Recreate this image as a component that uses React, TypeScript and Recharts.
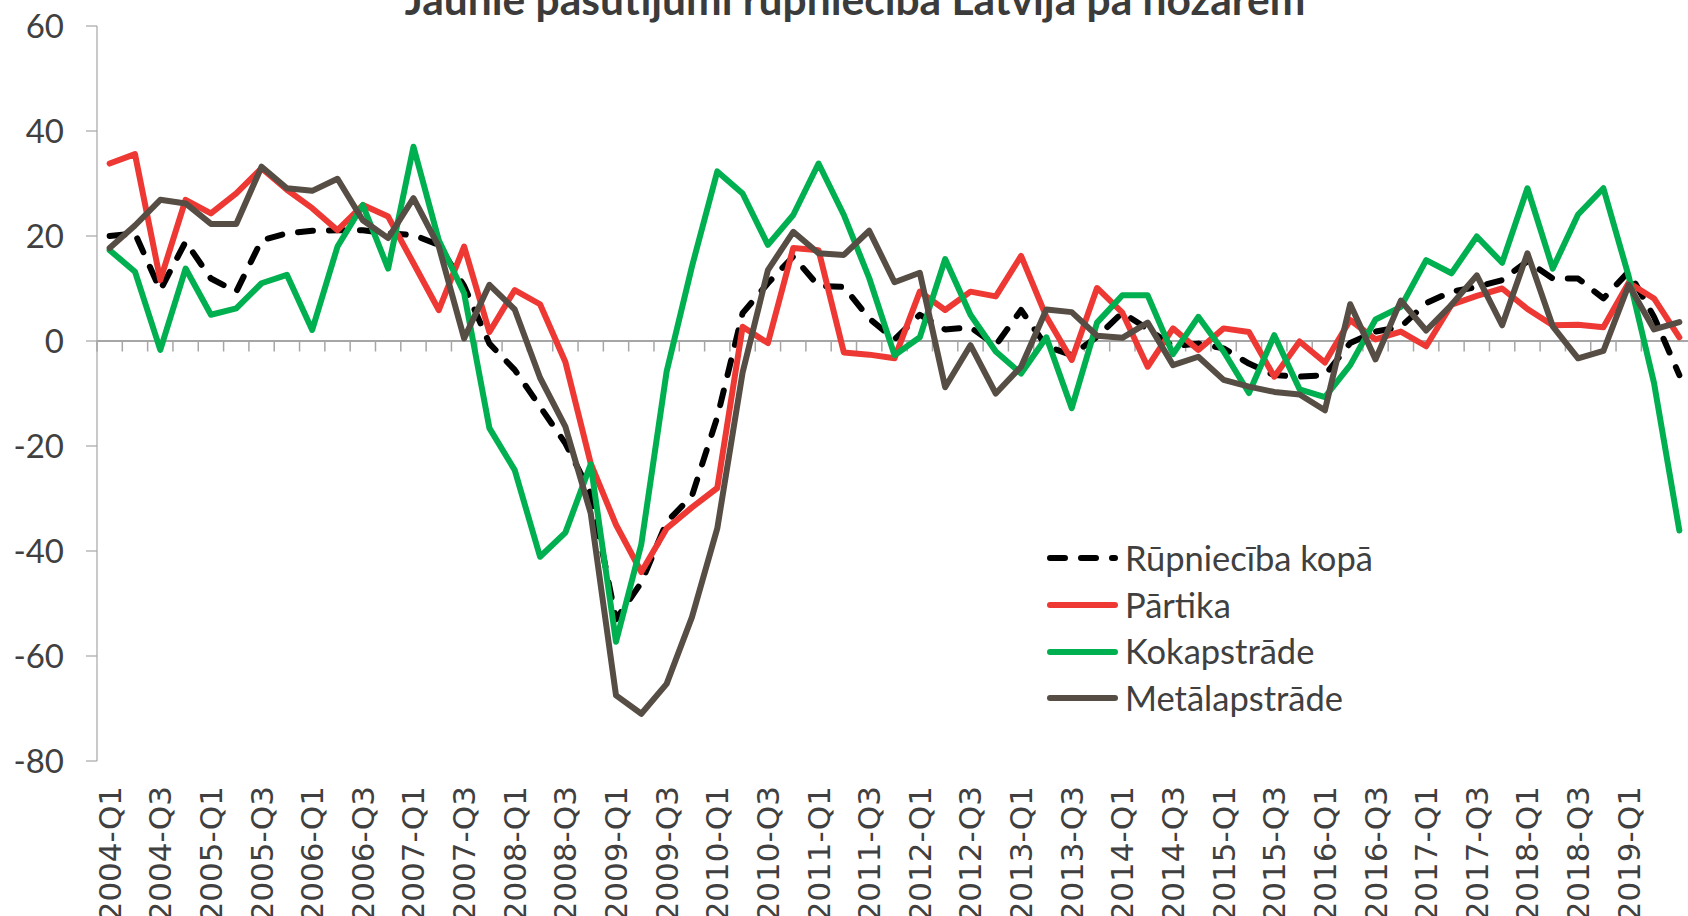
import { LineChart, Line, XAxis, YAxis, ReferenceLine, Legend } from "recharts";

const quarters = [
  "2004-Q1", "2004-Q2", "2004-Q3", "2004-Q4",
  "2005-Q1", "2005-Q2", "2005-Q3", "2005-Q4",
  "2006-Q1", "2006-Q2", "2006-Q3", "2006-Q4",
  "2007-Q1", "2007-Q2", "2007-Q3", "2007-Q4",
  "2008-Q1", "2008-Q2", "2008-Q3", "2008-Q4",
  "2009-Q1", "2009-Q2", "2009-Q3", "2009-Q4",
  "2010-Q1", "2010-Q2", "2010-Q3", "2010-Q4",
  "2011-Q1", "2011-Q2", "2011-Q3", "2011-Q4",
  "2012-Q1", "2012-Q2", "2012-Q3", "2012-Q4",
  "2013-Q1", "2013-Q2", "2013-Q3", "2013-Q4",
  "2014-Q1", "2014-Q2", "2014-Q3", "2014-Q4",
  "2015-Q1", "2015-Q2", "2015-Q3", "2015-Q4",
  "2016-Q1", "2016-Q2", "2016-Q3", "2016-Q4",
  "2017-Q1", "2017-Q2", "2017-Q3", "2017-Q4",
  "2018-Q1", "2018-Q2", "2018-Q3", "2018-Q4",
  "2019-Q1", "2019-Q2", "2019-Q3",
];

// Rūpniecība kopā
const kopa = [
  20.0, 20.5, 9.7, 18.9, 11.9, 9.4, 19.2, 20.5, 21.0, 21.1, 21.1, 20.5, 20.2, 18.3, 10.5, -0.5,
  -5.5, -12.5, -19.5, -29.0, -53.0, -46.0, -34.5, -29.5, -14.5, 5.3, 11.0, 16.1, 10.5, 10.3, 4.3, 0.3,
  5.0, 2.2, 2.6, -0.8, 5.9, -1.0, -2.7, 0.8, 5.4, 2.3, -1.0, -0.5, -1.4, -4.3, -6.5, -6.8,
  -6.5, -0.4, 1.8, 2.7, 7.2, 9.4, 10.3, 11.6, 15.2, 11.9, 11.9, 8.1, 13.2, 4.6, -6.5,
];

// Pārtika
const partika = [
  33.8, 35.6, 11.6, 26.9, 24.3, 28.1, 32.9, 28.8, 25.3, 21.1, 25.9, 23.7, 14.8, 5.9, 18.0, 1.7,
  9.7, 7.0, -4.0, -23.3, -35.0, -44.0, -35.7, -31.7, -28.0, 2.7, -0.4, 17.7, 17.3, -2.2, -2.6, -3.3,
  9.4, 5.9, 9.4, 8.5, 16.2, 4.6, -3.6, 10.1, 5.4, -4.9, 2.4, -1.7, 2.4, 1.7, -6.8, -0.1,
  -4.1, 4.0, 0.3, 1.8, -1.0, 6.9, 8.6, 10.0, 6.1, 3.0, 3.1, 2.6, 11.1, 8.1, 0.7,
];

// Kokapstrāde
const kokapstrade = [
  17.3, 13.2, -1.7, 13.8, 5.0, 6.2, 11.0, 12.6, 2.1, 18.0, 25.9, 13.8, 37.0, 19.2, 9.1, -16.6,
  -24.6, -41.1, -36.5, -23.5, -57.3, -38.7, -5.8, 14.2, 32.3, 28.1, 18.3, 24.0, 33.8, 24.0, 12.0, -2.7,
  0.7, 15.6, 5.0, -2.0, -6.2, 0.7, -12.8, 3.5, 8.7, 8.7, -2.5, 4.6, -2.0, -9.9, 1.1, -9.2,
  -10.7, -4.6, 4.1, 6.5, 15.4, 12.9, 19.9, 14.9, 29.1, 13.8, 24.1, 29.1, 12.3, -8.0, -36.1,
];

// Metālapstrāde
const metalapstrade = [
  17.7, 22.0, 26.9, 26.2, 22.3, 22.3, 33.2, 29.1, 28.6, 30.9, 23.0, 19.6, 27.2, 18.0, 0.5, 10.7,
  6.0, -7.0, -16.3, -32.8, -67.5, -71.0, -65.3, -52.6, -35.7, -6.0, 13.5, 20.8, 16.7, 16.4, 21.0, 11.2,
  13.0, -8.8, -0.8, -10.0, -4.9, 6.0, 5.5, 1.0, 0.6, 3.5, -4.6, -3.0, -7.4, -8.7, -9.7, -10.2,
  -13.2, 7.0, -3.5, 7.7, 2.0, 6.9, 12.5, 3.0, 16.7, 2.8, -3.3, -1.9, 10.7, 2.2, 3.6,
];

const yTicks = [-80, -60, -40, -20, 0, 20, 40, 60];

// every second quarter is labelled, up to 2019-Q1
const labelTicks = quarters.map((_, i) => i).filter((i) => i % 2 === 0 && i <= 60);

const series = [
  { key: "kopa", name: "Rūpniecība kopā", color: "#000000", dash: "15 16" },
  { key: "partika", name: "Pārtika", color: "#ee3833", dash: undefined },
  { key: "kokapstrade", name: "Kokapstrāde", color: "#00b050", dash: undefined },
  { key: "metalapstrade", name: "Metālapstrāde", color: "#564d44", dash: undefined },
];

const data = quarters.map((q, i) => ({
  idx: i,
  q,
  kopa: kopa[i],
  partika: partika[i],
  kokapstrade: kokapstrade[i],
  metalapstrade: metalapstrade[i],
}));

const bandEdges = [...quarters.map((_, i) => i - 0.5), quarters.length - 0.5];

const textColor = "#404040";
const axisGray = "#a6a6a6";

function QuarterTick(props: any) {
  const { x, y, payload } = props;
  const ty = y + 23;
  return (
    <text
      x={x}
      y={ty}
      transform={`rotate(-90 ${x} ${ty})`}
      textAnchor="end"
      dominantBaseline="central"
      fontFamily="DejaVu Sans"
      fontSize={31}
      fill={textColor}
    >
      {quarters[payload.value]}
    </text>
  );
}

function LegendBox() {
  return (
    <div>
      {series.map((s) => (
        <div key={s.key} style={{ display: "flex", alignItems: "center", height: 46.7 }}>
          <svg width={78} height={20}>
            <line
              x1={3}
              y1={10}
              x2={68}
              y2={10}
              stroke={s.color}
              strokeWidth={6}
              strokeLinecap="round"
              strokeDasharray={s.dash}
            />
          </svg>
          <span style={{ fontFamily: "Lato", fontSize: 34.5, color: textColor, lineHeight: 1 }}>
            {s.name}
          </span>
        </div>
      ))}
    </div>
  );
}

export default function App() {
  return (
    <div
      style={{
        position: "absolute",
        left: 0,
        top: 0,
        width: 1688,
        height: 916,
        overflow: "hidden",
        background: "#fff",
      }}
    >
      <LineChart width={1700} height={916} data={data} margin={{ top: 26, right: 8, bottom: 0, left: 0 }}>
        <XAxis
          dataKey="idx"
          type="number"
          domain={[-0.5, quarters.length - 0.5]}
          ticks={labelTicks}
          interval={0}
          tick={QuarterTick}
          tickLine={false}
          axisLine={false}
          tickSize={0}
          height={155}
        />
        <YAxis
          type="number"
          domain={[-80, 60]}
          ticks={yTicks}
          interval={0}
          width={97}
          tickSize={11}
          tickMargin={22}
          axisLine={{ stroke: axisGray, strokeWidth: 1.2 }}
          tickLine={{ stroke: axisGray, strokeWidth: 1.2 }}
          tick={{ fill: textColor, fontSize: 33, fontFamily: "Lato" }}
        />
        <ReferenceLine y={0} stroke={axisGray} strokeWidth={2} />
        {bandEdges.map((t) => (
          <ReferenceLine
            key={t}
            segment={[
              { x: t, y: 0 },
              { x: t, y: -2 },
            ]}
            stroke={axisGray}
            strokeWidth={1.5}
            ifOverflow="visible"
          />
        ))}
        {series.map((s) => (
          <Line
            key={s.key}
            type="linear"
            dataKey={s.key}
            name={s.name}
            stroke={s.color}
            strokeWidth={6}
            strokeDasharray={s.dash}
            strokeLinecap="round"
            strokeLinejoin="round"
            dot={false}
            activeDot={false}
            isAnimationActive={false}
          />
        ))}
        <Legend
          layout="vertical"
          align="center"
          verticalAlign="middle"
          content={LegendBox}
          wrapperStyle={{ left: 1047, top: 535, width: "auto", height: "auto" }}
        />
      </LineChart>
      <svg width={1688} height={40} style={{ position: "absolute", left: 0, top: 0 }}>
        <text
          x={855}
          y={15}
          textAnchor="middle"
          fontFamily="Lato"
          fontWeight={700}
          fontSize={42.5}
          fill="#3b3b3b"
        >
          Jaunie pasūtījumi rūpniecībā Latvijā pa nozarēm
        </text>
      </svg>
    </div>
  );
}
